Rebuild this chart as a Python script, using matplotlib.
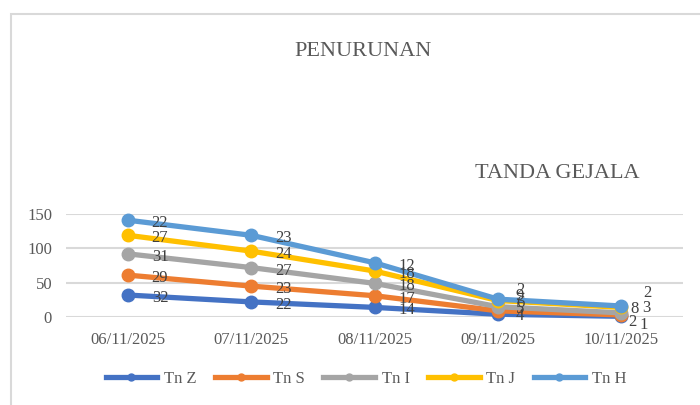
import matplotlib
matplotlib.use("Agg")
import matplotlib.pyplot as plt
import numpy as np
from matplotlib.patches import Rectangle
from matplotlib.lines import Line2D

categories = ["06/11/2025", "07/11/2025", "08/11/2025", "09/11/2025", "10/11/2025"]
series_names = ["Tn Z", "Tn S", "Tn I", "Tn J", "Tn H"]
tn_z = [32, 22, 14, 4, 1]
tn_s = [29, 23, 17, 5, 2]
tn_i = [31, 27, 18, 6, 3]
tn_j = [27, 24, 18, 9, 8]
tn_h = [22, 23, 12, 2, 2]
colors = ["#4472C4", "#ED7D31", "#A5A5A5", "#FFC000", "#5B9BD5"]
yticks = [0, 50, 100, 150]

plt.rcParams['font.family'] = ['Liberation Serif', 'DejaVu Serif']
text_col = "#595959"
label_col = "#404040"

fig = plt.figure(figsize=(7, 4.05), dpi=100)
W, H = 700, 405
ax = fig.add_axes([66 / W, (H - 317) / H, (683 - 66) / W, (317 - 214) / H])

# border of chart area
fig.patches.append(Rectangle((11 / W, -0.1), 1.2, (H - 14) / H + 0.1, transform=fig.transFigure,
                             fill=False, edgecolor="#D9D9D9", linewidth=1.5, zorder=0))

x = np.arange(len(categories))
all_series = [tn_z, tn_s, tn_i, tn_j, tn_h]
cum = np.zeros(len(categories))
cums = []
for vals in all_series:
    cum = cum + np.array(vals)
    cums.append(cum.copy())

for name, c, col in zip(series_names, cums, colors):
    ax.plot(x, c, color=col, linewidth=3.8, marker="o", markersize=9, label=name,
            solid_capstyle="round", clip_on=False, zorder=3)

# label offsets in pixels (dx, dy down-positive) for crowded points
last_offsets = {0: (18, 9), 1: (7, 7), 2: (21, -5), 3: (9, 2), 4: (22, -13)}
mid_offsets = {0: (18, 2), 1: (18, -2), 2: (18, -4), 3: (18, -4.5), 4: (18, -9)}

for si, (vals, c) in enumerate(zip(all_series, cums)):
    for xi, (v, yi) in enumerate(zip(vals, c)):
        if xi == 4:
            dx, dy = last_offsets[si]
        elif xi == 3:
            dx, dy = mid_offsets[si]
        else:
            dx, dy = 24, 3
        ax.annotate(str(v), (xi, yi), xytext=(dx * 0.72, -dy * 0.72), textcoords="offset points",
                    ha="left", va="center", fontsize=12, color=label_col, zorder=5,
                    annotation_clip=False)

ax.set_xlim(-0.5, 4.5)
ax.set_ylim(0, 150)
ax.set_yticks(yticks)
ax.set_yticklabels([str(t) for t in yticks])
ax.set_xticks(x)
ax.set_xticklabels(categories)
ax.grid(axis="y", color="#D9D9D9", linewidth=1.5)
ax.set_axisbelow(True)
for s in ax.spines.values():
    s.set_visible(False)
ax.tick_params(axis="both", length=0, labelsize=12, labelcolor=text_col)
ax.tick_params(axis="y", pad=10)
ax.tick_params(axis="x", pad=11)

fig.text(363 / W, (H - 56) / H, "PENURUNAN", ha="center", va="baseline", fontsize=16, color=text_col)
fig.text(557 / W, (H - 178) / H, "TANDA GEJALA", ha="center", va="baseline", fontsize=16, color=text_col)

handles = [Line2D([], [], color=col, linewidth=3.8, marker="o", markersize=5) for col in colors]
leg = fig.legend(handles, series_names, loc="center", bbox_to_anchor=(366 / W, (H - 379) / H),
                 ncol=5, frameon=False, fontsize=12, handlelength=3.1, handletextpad=0.4,
                 columnspacing=1.1, labelcolor=text_col)

fig.savefig("out.png", dpi=100)
